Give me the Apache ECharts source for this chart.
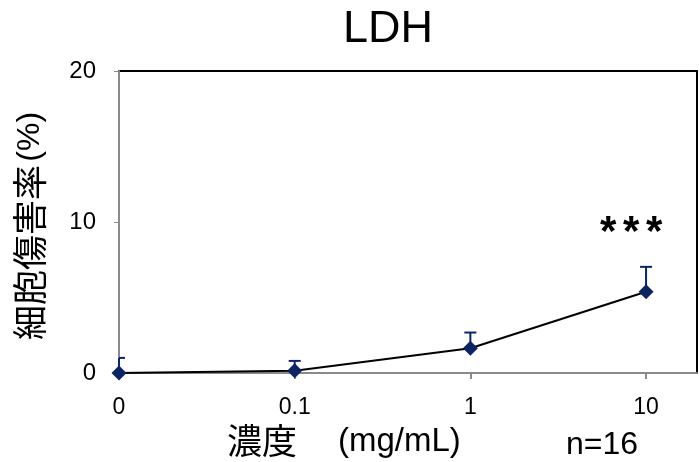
<!DOCTYPE html>
<html>
<head>
<meta charset="utf-8">
<script src="https://cdn.jsdelivr.net/npm/echarts@6/dist/echarts.min.js"></script>
<style>
  html, body { margin: 0; padding: 0; background: #fff; }
  #chart { width: 700px; height: 462px; }
</style>
</head>
<body>
<div id="chart"></div>
<script>
// Concentrations (mg/mL) shown as evenly spaced ticks
const tickLabels = ['0', '0.1', '1', '10'];
// Mean cytotoxicity (%) and upper error (SD) per concentration
const meanValues = [0.0, 0.15, 1.64, 5.38];
const errorValues = [1.0, 0.65, 1.04, 1.65];

const navy = '#0d2463';
const font = '"Liberation Sans", Arial, "Noto Sans CJK JP", sans-serif';
const cjkFont = '"Noto Sans CJK JP", "Liberation Sans", sans-serif';

const points = meanValues.map((v, i) => [i, v]);
const errData = meanValues.map((v, i) => [i, v, v + errorValues[i]]);

const chart = echarts.init(document.getElementById('chart'), null, { renderer: 'canvas' });

chart.setOption({
  animation: false,
  backgroundColor: '#fff',
  grid: {
    left: 119, right: 3, top: 71, bottom: 89,
    show: true, borderColor: '#000', borderWidth: 2, backgroundColor: '#fff'
  },
  xAxis: {
    type: 'value',
    min: 0, max: 3.29, interval: 1,
    axisLine: { show: true, lineStyle: { color: '#8a8a8a', width: 2 } },
    axisTick: { show: true, length: 6, lineStyle: { color: '#8a8a8a', width: 2 } },
    splitLine: { show: false },
    axisLabel: {
      margin: 23,
      fontFamily: font, fontSize: 23, color: '#000',
      showMaxLabel: false,
      formatter: v => (Number.isInteger(v) && tickLabels[v] !== undefined) ? tickLabels[v] : ''
    }
  },
  yAxis: {
    type: 'value',
    min: 0, max: 20, interval: 10,
    axisLine: { show: true, lineStyle: { color: '#8a8a8a', width: 2 } },
    axisTick: { show: true, length: 5, lineStyle: { color: '#8a8a8a', width: 1 } },
    splitLine: { show: false },
    axisLabel: { margin: 23, fontFamily: font, fontSize: 24, color: '#000' }
  },
  graphic: [
    {
      // chart title
      type: 'text', x: 388, y: 30,
      style: {
        text: 'LDH', fontFamily: font, fontSize: 45, fill: '#000',
        align: 'center', verticalAlign: 'middle'
      }
    },
    {
      // y-axis name, rotated to read bottom-to-top
      type: 'text', x: 30, y: 226, rotation: Math.PI / 2,
      style: {
        text: '{c|細胞傷害率} {l|(%)}',
        align: 'center', verticalAlign: 'middle',
        rich: {
          c: { fontFamily: cjkFont, fontSize: 35, fill: '#000' },
          l: { fontFamily: font, fontSize: 32, fill: '#000' }
        }
      }
    },
    {
      // x-axis name
      type: 'text', x: 227, y: 441,
      style: {
        text: '濃度', fontFamily: cjkFont, fontSize: 35, fill: '#000',
        align: 'left', verticalAlign: 'middle'
      }
    },
    {
      type: 'text', x: 338, y: 442,
      style: {
        text: '(mg/mL)', fontFamily: font, fontSize: 33, fill: '#000',
        align: 'left', verticalAlign: 'middle'
      }
    },
    {
      type: 'text', x: 602, y: 445,
      style: {
        text: 'n=16', fontFamily: font, fontSize: 32, fill: '#000',
        align: 'center', verticalAlign: 'middle'
      }
    }
  ],
  series: [
    {
      type: 'custom',
      name: 'error',
      z: 3,
      clip: false,
      data: errData,
      renderItem: (params, api) => {
        const x = api.value(0);
        const lo = api.coord([x, api.value(1)]);
        const hi = api.coord([x, api.value(2)]);
        const cap = 6;
        const style = { stroke: navy, lineWidth: 2 };
        const children = [
          { type: 'line', shape: { x1: lo[0], y1: lo[1], x2: hi[0], y2: hi[1] }, style },
          { type: 'line', shape: { x1: Math.max(hi[0] - cap, 119), y1: hi[1], x2: hi[0] + cap, y2: hi[1] }, style }
        ];
        return { type: 'group', children };
      }
    },
    {
      type: 'line',
      name: 'mean',
      z: 4,
      data: points,
      symbol: 'diamond',
      symbolSize: 15,
      lineStyle: { color: '#000', width: 2 },
      itemStyle: { color: navy },
      markPoint: {
        symbol: 'circle', symbolSize: 1,
        itemStyle: { color: 'transparent' },
        label: {
          show: true, position: 'inside',
          formatter: '{a|*}{s| }{a|*}{s| }{a|*}',
          rich: {
            a: { fontFamily: font, fontSize: 42, fontWeight: 'bold', color: '#000' },
            s: { fontFamily: font, fontSize: 24, color: '#000' }
          }
        },
        data: [{ coord: [2.915, 9.25] }]
      }
    }
  ]
});
</script>
</body>
</html>
